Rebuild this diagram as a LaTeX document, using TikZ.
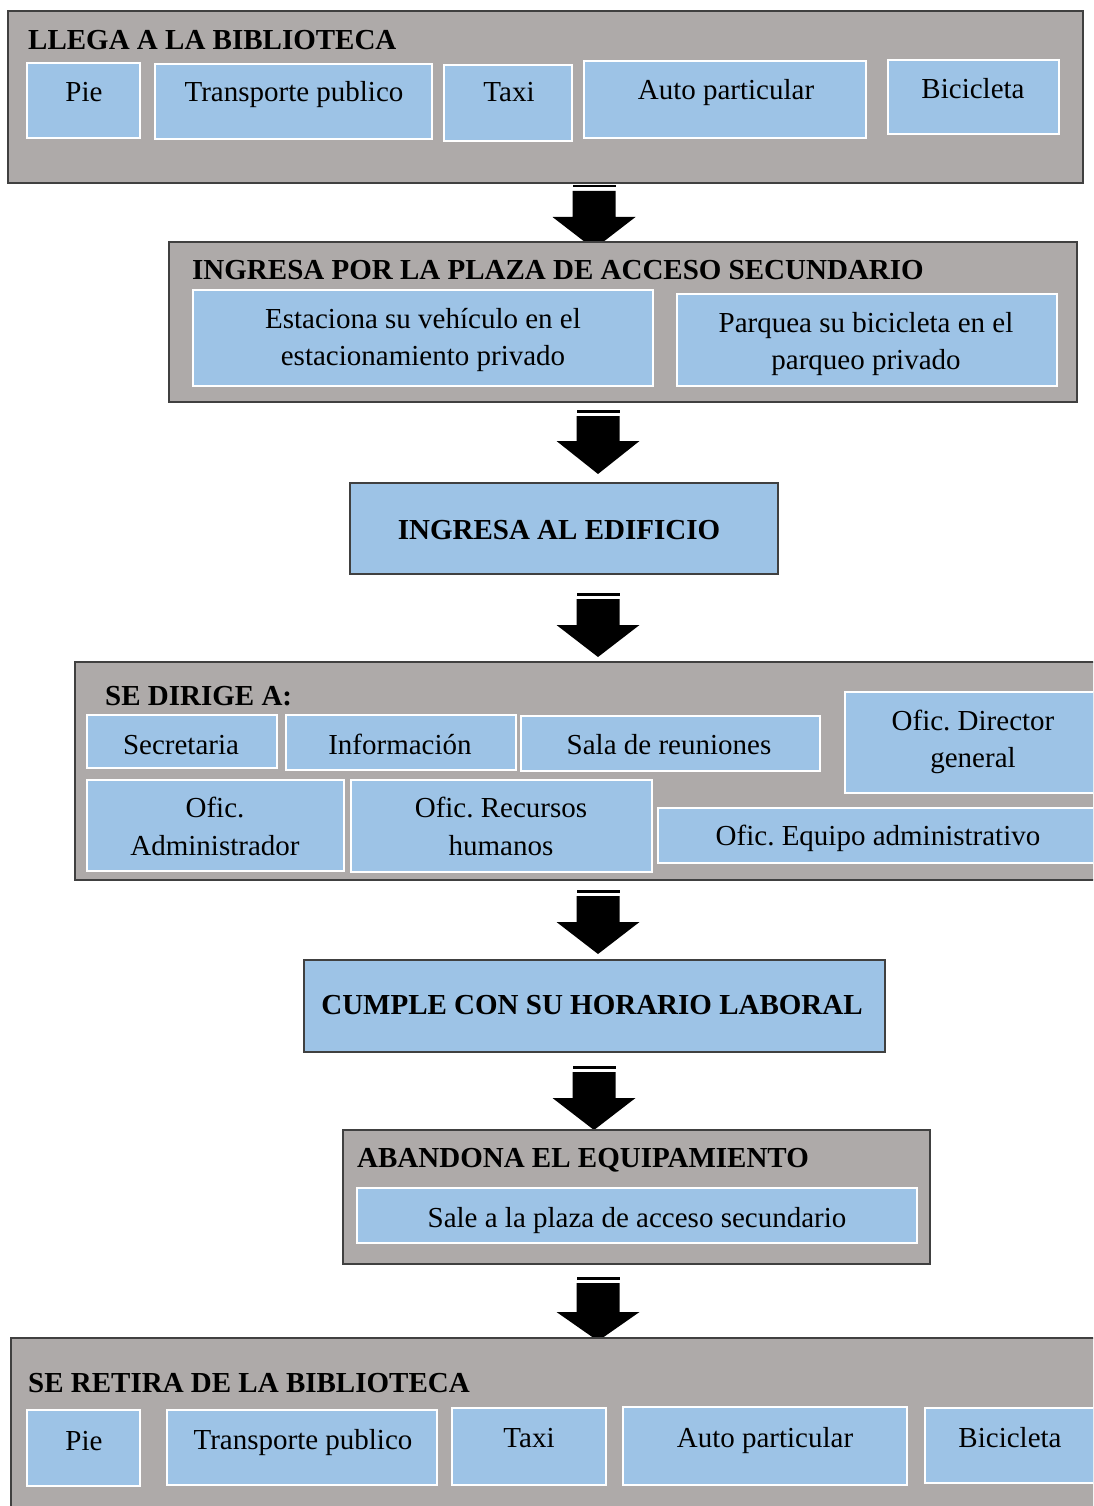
\documentclass[tikz,border=0pt]{standalone}
\usepackage{fontspec}
\setmainfont{Liberation Serif}
\usetikzlibrary{fit,calc}
\frenchspacing
\definecolor{boxgray}{RGB}{174,170,169}
\definecolor{boxblue}{RGB}{157,195,230}
\definecolor{edgegray}{RGB}{64,64,64}
\tikzset{
 graybox/.style={draw=edgegray, line width=2.2pt, fill=boxgray, inner sep=0pt},
 bluebox/.style={draw=white, line width=2pt, fill=boxblue, inner sep=0pt},
 bluedark/.style={draw=edgegray, line width=2.2pt, fill=boxblue, inner sep=0pt},
 lbl/.style={font=\fontsize{29}{35}\selectfont, anchor=base, inner sep=0pt},
 ttl/.style={font=\fontsize{29}{35}\selectfont\bfseries, anchor=base west, inner sep=0pt},
 blockarrow/.style={fill=black},
}
\newcommand\blkarrow[4]{%
 \coordinate (#1) at (#2,#3);
 \fill[blockarrow] ($(#1)+(-21.5,0)$) rectangle ($(#1)+(21.5,2.5)$);
 \fill[blockarrow] ($(#1)+(-21.5,6)$) -- ($(#1)+(21.5,6)$) -- ($(#1)+(21.5,#4-#3)$) -- ($(#1)+(41.5,#4-#3)$)
   -- ($(#1)+(0,64)$) -- ($(#1)+(-41.5,#4-#3)$) -- ($(#1)+(-21.5,#4-#3)$) -- cycle;
}
\begin{document}
\begin{tikzpicture}[x=1pt,y=-1pt]
\useasboundingbox (0,0) rectangle (1093,1506);
\clip (0,0) rectangle (1093,1506);

% arrows (drawn first, boxes overlap their tips)
\blkarrow{a1}{594}{185}{217}
\blkarrow{a2}{598}{410}{441}
\blkarrow{a3}{598}{593}{625}
\blkarrow{a4}{598}{890}{922}
\blkarrow{a5}{594}{1066}{1098}
\blkarrow{a6}{598}{1277}{1312}

% ---- Box 1
\node[graybox, fit={(8,11)(1083,183)}] (b1) {};
\node[ttl] (b1t) at (28,50) {LLEGA A LA BIBLIOTECA};
\node[bluebox, fit={(27,63)(140,138)}] (p1) {};
\node[lbl] (p1t) at (84,102) {Pie};
\node[bluebox, fit={(155,64)(432,139)}] (t1) {};
\node[lbl] (t1t) at (294,102) {Transporte publico};
\node[bluebox, fit={(444,65)(572,141)}] (x1) {};
\node[lbl] (x1t) at (509,102) {Taxi};
\node[bluebox, fit={(584,61)(866,138)}] (c1) {};
\node[lbl] (c1t) at (726,100) {Auto particular};
\node[bluebox, fit={(888,60)(1059,134)}] (k1) {};
\node[lbl] (k1t) at (973,99) {Bicicleta};

% ---- Box 2
\node[graybox, fit={(169,242)(1077,402)}] (b2) {};
\node[ttl] (b2t) at (192,279) {INGRESA POR LA PLAZA DE ACCESO SECUNDARIO};
\node[bluebox, fit={(193,290)(653,386)}] (e2) {};
\node[lbl] (e2t1) at (423,328) {Estaciona su vehículo en el};
\node[lbl] (e2t2) at (423,365) {estacionamiento privado};
\node[bluebox, fit={(677,294)(1057,386)}] (q2) {};
\node[lbl] (q2t1) at (866,332) {Parquea su bicicleta en el};
\node[lbl] (q2t2) at (866,369) {parqueo privado};

% ---- Box 3
\node[bluedark, fit={(350,483)(778,574)}] (b3) {};
\node[ttl, anchor=base] (b3t) at (559,539) {INGRESA AL EDIFICIO};

% ---- Box 4
\node[graybox, fit={(75,662)(1110,880)}] (b4) {};
\node[ttl] (b4t) at (105,705) {SE DIRIGE A:};
\node[bluebox, fit={(87,715)(277,768)}] (s4) {};
\node[lbl] (s4t) at (181,754) {Secretaria};
\node[bluebox, fit={(286,715)(516,770)}] (i4) {};
\node[lbl] (i4t) at (400,754) {Información};
\node[bluebox, fit={(521,716)(820,771)}] (r4) {};
\node[lbl] (r4t) at (669,754) {Sala de reuniones};
\node[bluebox, fit={(845,692)(1110,793)}] (d4) {};
\node[lbl] (d4t1) at (973,730) {Ofic. Director};
\node[lbl] (d4t2) at (973,767) {general};
\node[bluebox, fit={(87,780)(344,871)}] (m4) {};
\node[lbl] (m4t1) at (215,817) {Ofic.};
\node[lbl] (m4t2) at (215,855) {Administrador};
\node[bluebox, fit={(351,780)(652,872)}] (h4) {};
\node[lbl] (h4t1) at (501,817) {Ofic. Recursos};
\node[lbl] (h4t2) at (501,855) {humanos};
\node[bluebox, fit={(658,808)(1110,863)}] (q4) {};
\node[lbl] (q4t) at (878,845) {Ofic. Equipo administrativo};

% ---- Box 5
\node[bluedark, fit={(304,960)(885,1052)}] (b5) {};
\node[ttl, anchor=base] (b5t) at (592,1014) {CUMPLE CON SU HORARIO LABORAL};

% ---- Box 6
\node[graybox, fit={(343,1130)(930,1264)}] (b6) {};
\node[ttl] (b6t) at (357,1167) {ABANDONA EL EQUIPAMIENTO};
\node[bluebox, fit={(357,1188)(917,1243)}] (s6) {};
\node[lbl] (s6t) at (637,1227) {Sale a la plaza de acceso secundario};

% ---- Box 7
\node[graybox, fit={(11,1338)(1110,1530)}] (b7) {};
\node[ttl] (b7t) at (28,1392) {SE RETIRA DE LA BIBLIOTECA};
\node[bluebox, fit={(27,1410)(140,1486)}] (p7) {};
\node[lbl] (p7t) at (84,1450) {Pie};
\node[bluebox, fit={(167,1410)(437,1485)}] (t7) {};
\node[lbl] (t7t) at (303,1449) {Transporte publico};
\node[bluebox, fit={(452,1408)(606,1485)}] (x7) {};
\node[lbl] (x7t) at (529,1447) {Taxi};
\node[bluebox, fit={(623,1407)(907,1485)}] (c7) {};
\node[lbl] (c7t) at (765,1447) {Auto particular};
\node[bluebox, fit={(925,1408)(1110,1483)}] (k7) {};
\node[lbl] (k7t) at (1010,1447) {Bicicleta};
\end{tikzpicture}
\end{document}
